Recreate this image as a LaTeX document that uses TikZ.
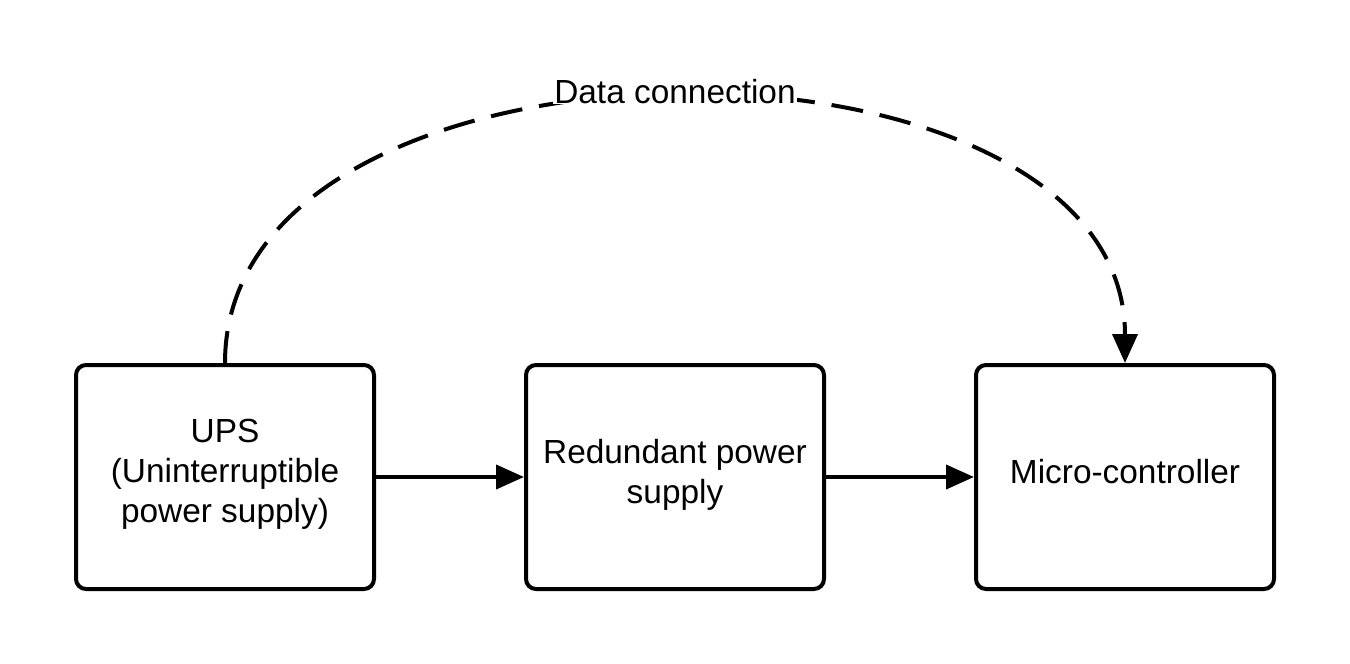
\documentclass[tikz,border=0pt]{standalone}
\usepackage{fontspec}
\setmainfont{Liberation Sans}
\usetikzlibrary{arrows.meta}
\begin{document}
\begin{tikzpicture}[x=1pt,y=-1pt,
  box/.style={draw, line width=4pt, rounded corners=10pt, minimum width=298pt, minimum height=224pt, align=center, inner sep=0pt, font=\fontsize{33.4}{40}\selectfont},
  flow/.style={line width=4pt, -{Triangle[length=28pt,width=24pt]}},
  datalink/.style={line width=4pt, dash pattern=on 32pt off 17pt, -{Triangle[length=29pt,width=25pt]}},
  lbl/.style={fill=white, inner sep=1pt, font=\fontsize{33.4}{40}\selectfont}]
\useasboundingbox (0,0) rectangle (1350,664);
\node[box, text depth=13pt] (ups) at (225,477) {UPS\\(Uninterruptible\\power supply)};
\node[box, text depth=11pt] (rps) at (675,477) {Redundant power\\supply};
\node[box, text depth=12pt] (mc) at (1125,477) {Micro-controller};
\draw[flow] (ups.east) -- (rps.west);
\draw[flow] (rps.east) -- (mc.west);
\draw[datalink] (ups.north) .. controls (225,8) and (1125,8) .. (mc.north);
\node[lbl, anchor=base] (dc) at (675,103) {Data connection};
\end{tikzpicture}
\end{document}
